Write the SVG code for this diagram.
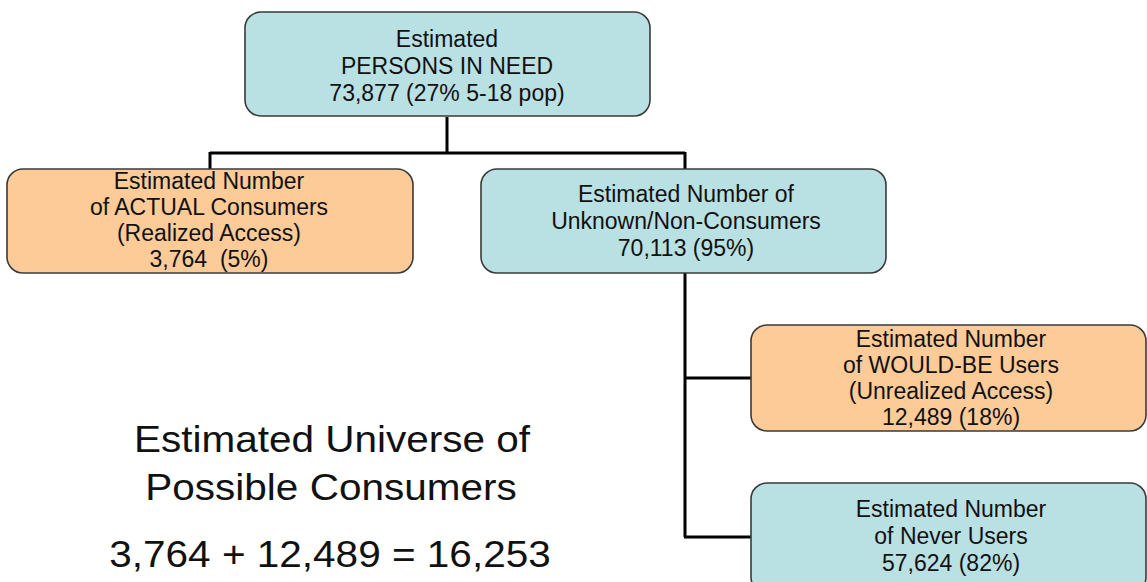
<svg xmlns="http://www.w3.org/2000/svg" width="1147" height="582" viewBox="0 0 1147 582">
<style>
.box{stroke:#3a3a3a;stroke-width:1.6}
.blue{fill:#b9e0e3}
.orange{fill:#fccb98}
.t{font-family:"Liberation Sans",Arial,sans-serif;font-size:23px;fill:#111;text-anchor:middle}
.big{font-family:"Liberation Sans",Arial,sans-serif;font-size:36.5px;fill:#111;text-anchor:middle}
.con{stroke:#000;stroke-width:3;fill:none}
</style>
<rect width="1147" height="582" fill="#ffffff"/>
<g id="connectors">
<path class="con" d="M447,117 V153 M210,153 H685 M210,152 V170 M685,152 V170"/>
<path class="con" d="M685,273 V537 M684,378 H752 M684,537 H752"/>
</g>
<g id="persons-in-need">
<rect class="box blue" x="245" y="12" width="405" height="104" rx="16"/>
<text class="t" x="447" y="47">Estimated</text>
<text class="t" x="447" y="74">PERSONS IN NEED</text>
<text class="t" x="447" y="101">73,877 (27% 5-18 pop)</text>
</g>
<g id="actual-consumers">
<rect class="box orange" x="7" y="169" width="406" height="104" rx="16"/>
<text class="t" x="209" y="189">Estimated Number</text>
<text class="t" x="209" y="215">of ACTUAL Consumers</text>
<text class="t" x="209" y="241">(Realized Access)</text>
<text class="t" x="209" y="267" xml:space="preserve">3,764  (5%)</text>
</g>
<g id="non-consumers">
<rect class="box blue" x="481" y="169" width="405" height="104" rx="16"/>
<text class="t" x="686" y="202">Estimated Number of</text>
<text class="t" x="686" y="229">Unknown/Non-Consumers</text>
<text class="t" x="686" y="256">70,113 (95%)</text>
</g>
<g id="would-be-users">
<rect class="box orange" x="751" y="325" width="395" height="106" rx="16"/>
<text class="t" x="951" y="347">Estimated Number</text>
<text class="t" x="951" y="373">of WOULD-BE Users</text>
<text class="t" x="951" y="399">(Unrealized Access)</text>
<text class="t" x="951" y="425">12,489 (18%)</text>
</g>
<g id="never-users">
<rect class="box blue" x="751" y="483" width="395" height="110" rx="16"/>
<text class="t" x="951" y="517">Estimated Number</text>
<text class="t" x="951" y="544">of Never Users</text>
<text class="t" x="951" y="571">57,624 (82%)</text>
</g>
<g id="universe">
<text class="big" transform="translate(332,452) scale(1.11,1)">Estimated Universe of</text>
<text class="big" transform="translate(331,500) scale(1.11,1)">Possible Consumers</text>
<text class="big" transform="translate(330,567) scale(1.11,1)">3,764 + 12,489 = 16,253</text>
</g>
</svg>
